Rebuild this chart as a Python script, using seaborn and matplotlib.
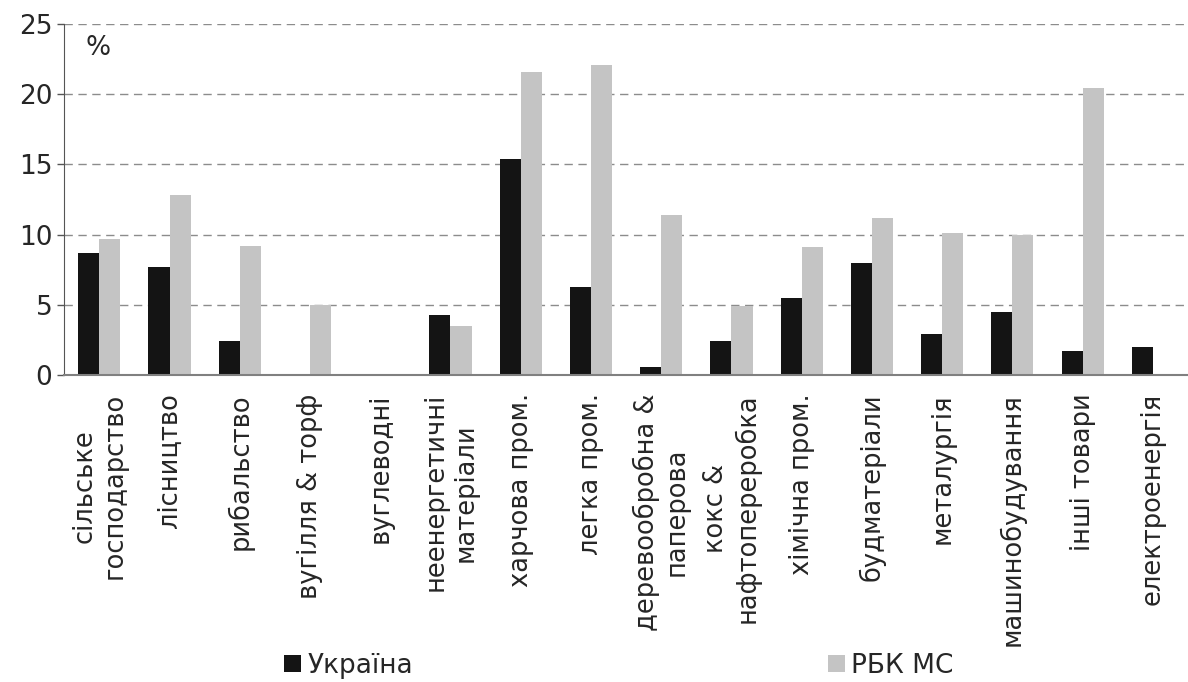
import matplotlib
matplotlib.use("Agg")
import matplotlib.pyplot as plt
import seaborn as sns
import pandas as pd
import numpy as np
from matplotlib.patches import Patch


CATEGORIES = [
    "сільське\nгосподарство",
    "лісництво",
    "рибальство",
    "вугілля & торф",
    "вуглеводні",
    "неенергетичні\nматеріали",
    "харчова пром.",
    "легка пром.",
    "деревообробна &\nпаперова",
    "кокс &\nнафтопереробка",
    "хімічна пром.",
    "будматеріали",
    "металургія",
    "машинобудування",
    "інші товари",
    "електроенергія",
]
SERIES = ["Україна", "РБК МС"]
UKRAINE = [8.7, 7.7, 2.4, 0, 0, 4.3, 15.4, 6.3, 0.6, 2.4, 5.5, 8.0, 2.9, 4.5, 1.7, 2.0]
RBK_MS = [9.7, 12.8, 9.2, 5.0, 0, 3.5, 21.6, 22.1, 11.4, 4.9, 9.1, 11.2, 10.1, 10.0, 20.4, 0]
COLORS = ["#141414", "#c4c4c4"]


df = pd.DataFrame({
    "cat": CATEGORIES * 2,
    "value": UKRAINE + RBK_MS,
    "series": [SERIES[0]] * len(CATEGORIES) + [SERIES[1]] * len(CATEGORIES),
})

sns.set_style("white")
plt.rcParams["font.family"] = ["DejaVu Sans"]

fig = plt.figure(figsize=(11.88, 6.82), dpi=100)
ax = fig.add_axes([0.054, 0.45, 0.946, 0.515])

sns.barplot(df, x="cat", y="value", hue="series", palette=COLORS,
            width=0.6, saturation=1, errorbar=None, linewidth=0,
            ax=ax, legend=False)

ax.set_xlim(-0.5, 15.5)
ax.set_ylim(0, 25)
ax.set_yticks([0, 5, 10, 15, 20, 25])
ax.yaxis.grid(True, linestyle=(0, (6, 4)), color="#8c8c8c", linewidth=1)
ax.set_axisbelow(True)

ax.set_xlabel("")
ax.set_ylabel("")
ax.set_xticks(range(len(CATEGORIES)))
ax.set_xticklabels(CATEGORIES, rotation=90, ha="center", va="top",
                   multialignment="center", fontsize=18.5)
ax.set_xticks(np.arange(-0.5, len(CATEGORIES), 1), minor=True)
ax.tick_params(axis="x", which="major", length=0, pad=13)
ax.tick_params(axis="x", which="minor", length=8, width=1, color="#555555", direction="out")
ax.tick_params(axis="y", labelsize=19, length=5, width=1, color="#555555", direction="out", left=True)

for side in ["top", "right"]:
    ax.spines[side].set_visible(False)
ax.spines["left"].set_color("#555555")
ax.spines["bottom"].set_color("#808080")
ax.spines["bottom"].set_linewidth(1.5)

ax.text(0.03, 0.93, "%", transform=ax.transAxes, fontsize=19, va="center", ha="center")

handles = [Patch(facecolor=c, edgecolor="none") for c in COLORS]
fig.legend(handles, SERIES, loc="lower center", bbox_to_anchor=(0.521, -0.03), ncol=2,
           frameon=False, fontsize=19, handlelength=0.65, handleheight=0.65,
           handletextpad=0.25, columnspacing=15.7)

fig.savefig("out.png", dpi=100)
